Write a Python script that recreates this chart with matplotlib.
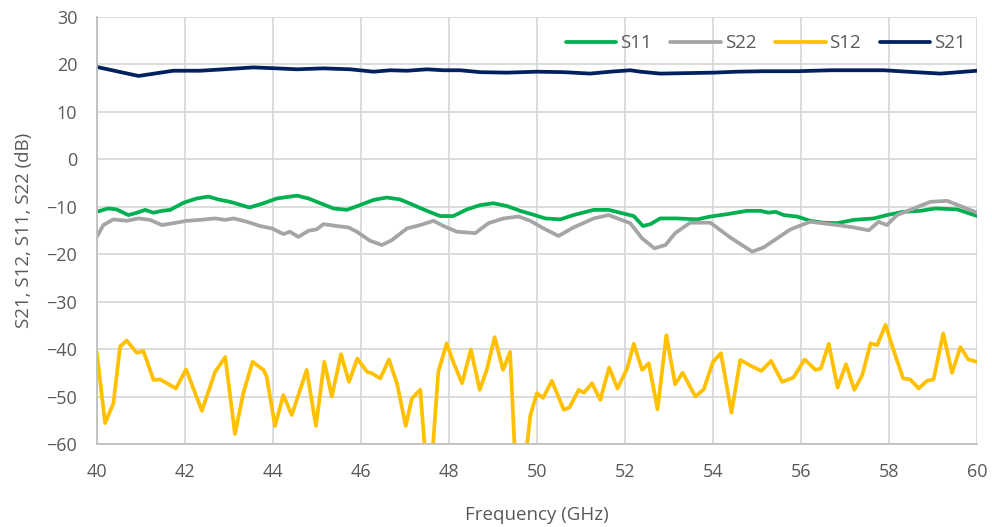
#!/usr/bin/env python3
"""S-parameter sweep, 40-60 GHz: S11, S22, S12, S21 in dB."""

import matplotlib
matplotlib.use("Agg")
import matplotlib.pyplot as plt

# ---- measured traces (GHz, dB) ----
s11_freq = [40.00, 40.26, 40.45, 40.72, 40.91, 41.10, 41.29, 41.48, 41.67, 41.97,
            42.27, 42.54, 42.76, 43.03, 43.47, 43.79, 44.09, 44.55, 44.81, 45.08,
            45.38, 45.68, 45.98, 46.29, 46.59, 46.89, 47.20, 47.50, 47.80, 48.10,
            48.41, 48.71, 49.01, 49.32, 49.62, 49.95, 50.19, 50.53, 50.83, 51.29,
            51.63, 51.89, 52.20, 52.41, 52.58, 52.80, 53.18, 53.64, 53.94, 54.32,
            54.77, 55.08, 55.26, 55.42, 55.61, 55.91, 56.21, 56.51, 56.82, 57.20,
            57.65, 57.95, 58.33, 58.71, 59.05, 59.55, 60.00]
s11_db = [-11.1, -10.4, -10.6, -11.8, -11.3, -10.7, -11.3, -10.9, -10.7, -9.2,
          -8.3, -7.9, -8.5, -9.0, -10.2, -9.3, -8.3, -7.7, -8.3, -9.3,
          -10.4, -10.7, -9.7, -8.6, -8.1, -8.5, -9.7, -10.9, -12.0, -12.0,
          -10.6, -9.7, -9.3, -9.9, -10.9, -11.8, -12.5, -12.7, -11.8, -10.7,
          -10.7, -11.3, -12.0, -14.1, -13.7, -12.5, -12.5, -12.7, -12.1, -11.6,
          -10.9, -10.9, -11.3, -11.1, -11.8, -12.1, -13.0, -13.4, -13.5, -12.8,
          -12.5, -11.8, -11.1, -10.9, -10.4, -10.6, -12.0]

s22_freq = [40.00, 40.15, 40.38, 40.68, 40.95, 41.21, 41.48, 41.74, 42.05, 42.35,
            42.69, 42.92, 43.11, 43.41, 43.71, 43.98, 44.24, 44.39, 44.58, 44.81,
            45.00, 45.15, 45.45, 45.72, 45.91, 46.21, 46.48, 46.70, 47.05, 47.35,
            47.65, 47.88, 48.18, 48.60, 48.90, 49.24, 49.58, 49.85, 50.15, 50.49,
            50.83, 51.29, 51.63, 52.12, 52.39, 52.67, 52.92, 53.14, 53.48, 53.94,
            54.39, 54.89, 55.15, 55.76, 56.21, 56.82, 57.20, 57.54, 57.76, 57.95,
            58.18, 58.56, 58.94, 59.32, 59.62, 60.00]
s22_db = [-16.4, -13.9, -12.7, -13.0, -12.5, -12.8, -13.9, -13.5, -13.0, -12.8,
          -12.5, -12.8, -12.5, -13.2, -14.1, -14.6, -15.8, -15.3, -16.4, -15.1,
          -14.8, -13.7, -14.1, -14.4, -15.3, -17.2, -18.1, -17.1, -14.6, -13.9,
          -13.0, -14.1, -15.3, -15.6, -13.5, -12.5, -12.1, -13.0, -14.6, -16.2,
          -14.4, -12.5, -11.8, -13.5, -16.7, -18.8, -18.1, -15.6, -13.4, -13.4,
          -16.5, -19.5, -18.6, -14.8, -13.2, -13.9, -14.4, -15.0, -13.2, -13.9,
          -11.8, -10.4, -9.0, -8.8, -9.9, -11.3]

# values below -60 dB run off the bottom of the axis
s12_freq = [40.00, 40.19, 40.38, 40.53, 40.68, 40.91, 41.06, 41.29, 41.44, 41.80,
            42.03, 42.39, 42.69, 42.92, 43.14, 43.33, 43.54, 43.79, 43.86, 44.05,
            44.24, 44.43, 44.77, 44.98, 45.17, 45.34, 45.55, 45.73, 45.92, 46.14,
            46.25, 46.44, 46.64, 46.83, 47.02, 47.16, 47.35, 47.48, 47.61, 47.76,
            47.95, 48.11, 48.30, 48.50, 48.70, 48.86, 49.04, 49.23, 49.39, 49.51,
            49.73, 49.85, 50.00, 50.14, 50.34, 50.61, 50.74, 50.95, 51.07, 51.25,
            51.44, 51.64, 51.83, 52.05, 52.20, 52.39, 52.54, 52.74, 52.94, 53.14,
            53.31, 53.60, 53.79, 54.00, 54.18, 54.42, 54.62, 54.85, 55.10, 55.32,
            55.57, 55.83, 56.08, 56.33, 56.45, 56.63, 56.83, 57.02, 57.21, 57.39,
            57.58, 57.73, 57.92, 58.10, 58.32, 58.48, 58.67, 58.86, 59.01, 59.23,
            59.43, 59.62, 59.80, 60.00]
s12_db = [-40.6, -55.6, -51.4, -39.5, -38.2, -40.8, -40.4, -46.5, -46.4, -48.3,
          -44.3, -53.0, -44.8, -41.7, -57.9, -49.3, -42.7, -44.4, -45.8, -56.2,
          -49.7, -53.9, -44.4, -56.2, -42.7, -50.0, -41.1, -46.9, -42.0, -44.8,
          -45.1, -46.2, -42.2, -47.6, -56.2, -50.4, -48.6, -64.0, -64.0, -44.8,
          -38.8, -43.0, -47.2, -40.1, -48.6, -44.4, -37.5, -44.4, -40.6, -64.0,
          -64.0, -54.0, -49.3, -50.3, -46.7, -52.8, -52.3, -48.6, -49.2, -47.2,
          -50.7, -43.9, -48.3, -44.1, -38.9, -44.4, -43.0, -52.7, -37.1, -47.4,
          -45.0, -50.0, -48.5, -42.7, -40.9, -53.4, -42.3, -43.5, -44.6, -42.5,
          -46.9, -46.0, -42.2, -44.4, -44.1, -38.9, -48.1, -43.2, -48.6, -45.5,
          -38.8, -39.2, -34.9, -40.2, -46.2, -46.4, -48.3, -46.7, -46.4, -36.7,
          -45.0, -39.6, -42.2, -42.7]

s21_freq = [40.00, 40.95, 41.74, 42.35, 42.88, 43.56, 44.09, 44.55, 45.15, 45.76,
            46.29, 46.67, 47.05, 47.50, 47.88, 48.26, 48.71, 49.32, 50.00, 50.61,
            51.21, 51.67, 52.12, 52.35, 52.80, 53.41, 54.01, 54.55, 55.15, 55.91,
            56.67, 57.27, 57.88, 58.41, 59.17, 60.00]
s21_db = [19.4, 17.5, 18.6, 18.6, 18.9, 19.3, 19.1, 18.9, 19.1, 18.9,
          18.4, 18.7, 18.6, 18.9, 18.7, 18.7, 18.3, 18.2, 18.4, 18.3,
          18.0, 18.4, 18.7, 18.4, 18.0, 18.1, 18.2, 18.4, 18.5, 18.5,
          18.7, 18.7, 18.7, 18.4, 18.0, 18.6]

x_ticks = [40, 42, 44, 46, 48, 50, 52, 54, 56, 58, 60]
y_ticks = [-60, -50, -40, -30, -20, -10, 0, 10, 20, 30]

TEXT = "#595959"
GRID = "#D9D9D9"

plt.rcParams.update({
    "font.family": ["Open Sans", "DejaVu Sans"],
    "font.size": 13,
    "text.color": TEXT,
    "axes.labelcolor": TEXT,
    "xtick.color": TEXT,
    "ytick.color": TEXT,
})

fig = plt.figure(figsize=(9.92, 5.27), dpi=100)
ax = fig.add_axes([0.0975, 0.1575, 0.8875, 0.811])

series = [
    ("S11", s11_freq, s11_db, "#00B050"),
    ("S22", s22_freq, s22_db, "#A5A5A5"),
    ("S12", s12_freq, s12_db, "#FFC000"),
    ("S21", s21_freq, s21_db, "#002060"),
]
for name, f, db, color in series:
    ax.plot(f, db, color=color, linewidth=2.7, label=name,
            solid_joinstyle="round", solid_capstyle="round")

ax.set_xlim(40, 60)
ax.set_ylim(-60, 30)
ax.set_xticks(x_ticks)
ax.set_yticks(y_ticks)
ax.grid(True, color=GRID, linewidth=1.3)
ax.set_axisbelow(True)
ax.tick_params(length=0, labelsize=13)
ax.tick_params(axis="x", pad=14)
ax.tick_params(axis="y", pad=14)
for side in ("top", "right"):
    ax.spines[side].set_visible(False)
for side in ("left", "bottom"):
    ax.spines[side].set_color("#BFBFBF")
    ax.spines[side].set_linewidth(1.3)

ax.set_xlabel("Frequency (GHz)", fontsize=13.5, labelpad=18)
ax.set_ylabel("S21, S12, S11, S22 (dB)", fontsize=13.5, labelpad=10)

ax.legend(loc="upper right", bbox_to_anchor=(1.0, 0.985), ncol=4, frameon=False,
          fontsize=13.5, handlelength=2.7, handletextpad=0.2, columnspacing=1.0,
          borderaxespad=0.2)

fig.savefig("out.png", dpi=100)
plt.close(fig)
